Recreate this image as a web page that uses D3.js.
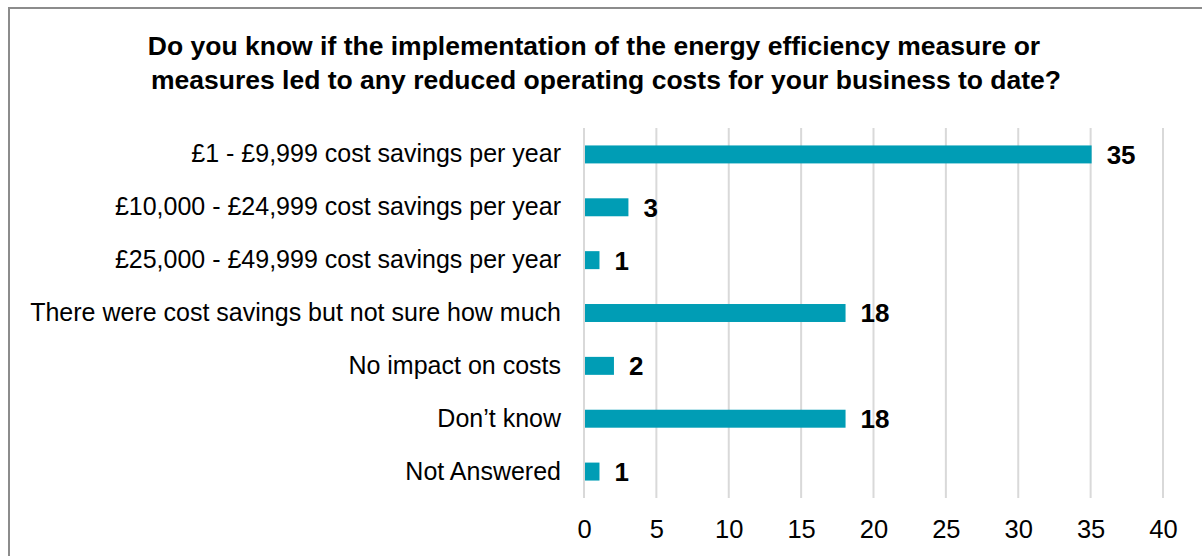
<!DOCTYPE html>
<html>
<head>
<meta charset="utf-8">
<script src="https://cdn.jsdelivr.net/npm/d3@7"></script>
<style>
  body { margin: 0; background: #fff; }
  svg text { font-family: "Liberation Sans", Arial, sans-serif; fill: #000; }
</style>
</head>
<body>
<div class="bar-chart"></div>
<script>
// DATA ----------------------------------------
const categories = [
	'£1 - £9,999 cost savings per year',
	'£10,000 - £24,999 cost savings per year',
	'£25,000 - £49,999 cost savings per year',
	'There were cost savings but not sure how much',
	'No impact on costs',
	'Don’t know',
	'Not Answered'
];
const counts = [35, 3, 1, 18, 2, 18, 1];
const xTicks = [0, 5, 10, 15, 20, 25, 30, 35, 40];
const titleLines = [
	'Do you know if the implementation of the energy efficiency measure or',
	'measures led to any reduced operating costs for your business to date?'
];

const data = categories.map((c, i) => ({category: c, value: counts[i]}));

// CHART INIT ----------------------------------------
const W = 1202, H = 556;
const margin = ({top: 128, right: 39, bottom: 58, left: 584});
const width = W - margin.left - margin.right;
const height = H - margin.top - margin.bottom;

const root = d3.select('.bar-chart').append('svg')
	.attr('width', W)
	.attr('height', H);

// outer frame
root.append('rect')
	.attr('x', 9)
	.attr('y', 8)
	.attr('width', W + 20)
	.attr('height', H + 20)
	.attr('fill', 'none')
	.attr('stroke', '#8c8c8c')
	.attr('stroke-width', 2);

root.selectAll('.title')
	.data(titleLines)
	.enter()
	.append('text')
	.attr('class', 'title')
	.attr('x', (d, i) => i === 0 ? 594 : 606)
	.attr('y', (d, i) => 55 + i * 34)
	.attr('text-anchor', 'middle')
	.style('font-size', '26.5px')
	.style('font-weight', 'bold')
	.text(d => d);

const svg = root.append('g')
	.attr('transform', `translate(${margin.left},${margin.top})`);

const xScale = d3.scaleLinear()
	.domain([0, 40])
	.range([0, width]);

const yScale = d3.scaleBand()
	.domain(categories)
	.range([0, height])
	.paddingInner(0.66)
	.paddingOuter(0.33);

// gridlines
svg.selectAll('.grid')
	.data(xTicks)
	.enter()
	.append('line')
	.attr('class', 'grid')
	.attr('x1', d => xScale(d))
	.attr('x2', d => xScale(d))
	.attr('y1', 0)
	.attr('y2', height)
	.attr('stroke', '#d9d9d9')
	.attr('stroke-width', 2);

// x axis labels
const xAxis = d3.axisBottom(xScale)
	.tickValues(xTicks)
	.tickSize(0)
	.tickPadding(22);

svg.append('g')
	.attr('class', 'axis x-axis')
	.attr('transform', `translate(0, ${height})`)
	.call(xAxis)
	.call(g => g.select('.domain').remove())
	.call(g => g.selectAll('text')
		.style('font-family', '"Liberation Sans", Arial, sans-serif')
		.style('font-size', '25.5px')
		.attr('fill', '#000'));

// y axis labels
const yAxis = d3.axisLeft(yScale)
	.tickSize(0)
	.tickPadding(23);

svg.append('g')
	.attr('class', 'axis y-axis')
	.call(yAxis)
	.call(g => g.select('.domain').remove())
	.call(g => g.selectAll('text')
		.style('font-family', '"Liberation Sans", Arial, sans-serif')
		.style('font-size', '25px')
		.attr('fill', '#000'));

// bars
svg.selectAll('.rects')
	.data(data)
	.enter()
	.append('rect')
	.attr('class', 'rects')
	.attr('x', xScale(0) + 1)
	.attr('y', d => yScale(d.category))
	.attr('width', d => xScale(d.value) - xScale(0))
	.attr('height', yScale.bandwidth())
	.attr('fill', '#009db5');

// value labels
svg.selectAll('.value')
	.data(data)
	.enter()
	.append('text')
	.attr('class', 'value')
	.attr('x', d => xScale(d.value) + 16)
	.attr('y', d => yScale(d.category) + yScale.bandwidth() / 2)
	.attr('dy', '0.36em')
	.style('font-size', '26px')
	.style('font-weight', 'bold')
	.text(d => d.value);
</script>
</body>
</html>
